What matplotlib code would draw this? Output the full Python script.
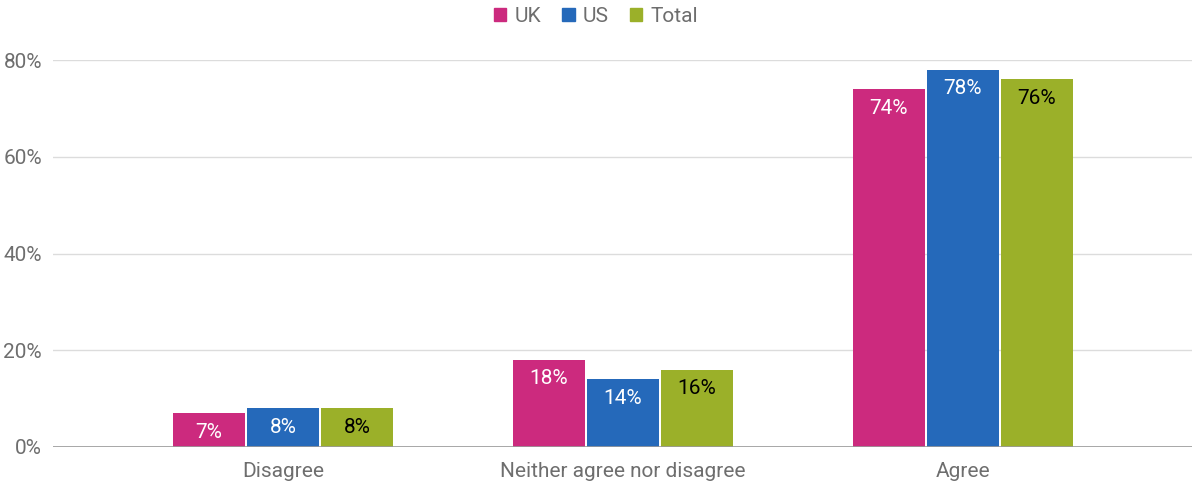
import numpy as np
import matplotlib.pyplot as plt
import matplotlib.ticker as ticker
from matplotlib.patches import Patch

categories = ["Disagree", "Neither agree nor disagree", "Agree"]
series_names = ["UK", "US", "Total"]
uk = [7, 18, 74]
us = [8, 14, 78]
total = [8, 16, 76]

colors = ["#cc2a7e", "#2569ba", "#9bb029"]
label_colors = ["white", "white", "black"]
y_ticks = [0, 20, 40, 60, 80]

plt.rcParams['font.family'] = ['Roboto', 'DejaVu Sans']
fs = 15

fig = plt.figure(figsize=(11.92, 4.84), dpi=100)
ax = fig.add_axes([53 / 1192, 37 / 484, 1139 / 1192, 387 / 484])

x = np.arange(len(categories))
width = 0.212
step = 0.2176

for i, (vals, col, lcol) in enumerate(zip([uk, us, total], colors, label_colors)):
    pos = x + (i - 1) * step
    bars = ax.bar(pos, vals, width, color=col, zorder=3)
    for b, v in zip(bars, vals):
        ax.annotate(f"{v}%", (b.get_x() + b.get_width() / 2, v),
                    xytext=(0, -19), textcoords='offset pixels',
                    ha='center', va='center', color=lcol, fontsize=fs, zorder=4)

ax.set_xlim(-0.676, 2.674)
ax.set_ylim(0, 80)
ax.set_yticks(y_ticks)
ax.yaxis.set_major_formatter(ticker.StrMethodFormatter('{x:.0f}%'))
ax.set_xticks(x)
ax.set_xticklabels(categories)

ax.grid(axis='y', color='#dcdcdc', linewidth=1, zorder=0)
ax.axhline(0, color='#9a9a9a', linewidth=1.2, zorder=5)
for s in ax.spines.values():
    s.set_visible(False)
ax.tick_params(axis='both', length=0, labelsize=fs, colors='#6e6e6e')
ax.tick_params(axis='x', pad=11)
ax.tick_params(axis='y', pad=8)

handles = [Patch(color=c, label=n) for c, n in zip(colors, series_names)]
fig.legend(handles=handles, loc='center', bbox_to_anchor=(0.5, 1 - 16 / 484),
           ncol=3, frameon=False, fontsize=fs, labelcolor='#6e6e6e',
           handlelength=0.6, handleheight=0.6, handletextpad=0.4, columnspacing=1.0)

fig.savefig("out.png", dpi=100)
